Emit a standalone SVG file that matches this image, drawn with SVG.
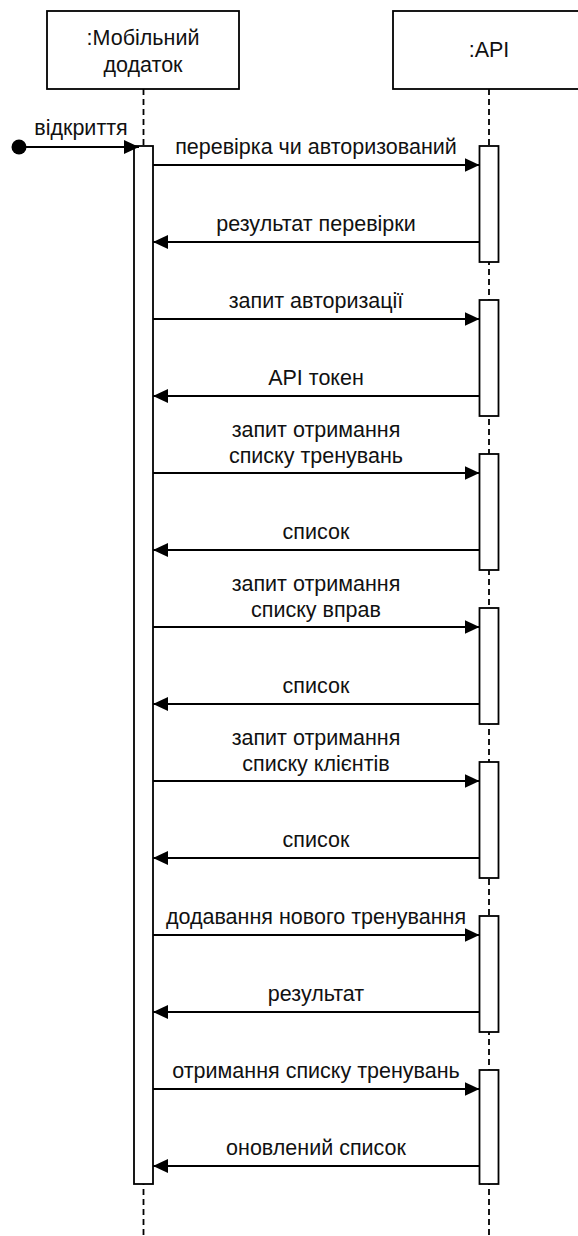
<svg xmlns="http://www.w3.org/2000/svg" width="578" height="1236" viewBox="0 0 578 1236">
  <style>
    .box { fill: #ffffff; stroke: #000000; stroke-width: 1.8; }
    .life { stroke: #000000; stroke-width: 1.8; stroke-dasharray: 6 4; fill: none; }
    .act { fill: #ffffff; stroke: #000000; stroke-width: 1.8; }
    .msg { stroke: #000000; stroke-width: 1.8; fill: none; marker-end: url(#arrow); }
    text { font-family: "Liberation Sans", Arial, Helvetica, sans-serif; font-size: 21.5px; fill: #111111; text-anchor: middle; }
  </style>
  <defs>
    <marker id="arrow" markerUnits="userSpaceOnUse" viewBox="0 0 15 14" refX="15" refY="7" markerWidth="15" markerHeight="14" orient="auto">
      <path d="M0,0 L15,7 L0,14 z" fill="#000000"/>
    </marker>
  </defs>
  <rect width="578" height="1236" fill="#ffffff"/>

  <g id="lifeline-mobile">
    <rect class="box" x="47" y="11" width="192" height="78"/>
    <text x="143" y="45">:Мобільний</text>
    <text x="143" y="72">додаток</text>
    <line class="life" x1="143.5" y1="89" x2="143.5" y2="1236"/>
    <rect class="act" x="134" y="146" width="19" height="1038"/>
  </g>

  <g id="lifeline-api">
    <rect class="box" x="393" y="11" width="192" height="78"/>
    <text x="489" y="57">:API</text>
    <line class="life" x1="489" y1="89" x2="489" y2="1236"/>
    <rect class="act" x="479.5" y="146" width="19" height="116"/>
    <rect class="act" x="479.5" y="300" width="19" height="116"/>
    <rect class="act" x="479.5" y="454" width="19" height="116"/>
    <rect class="act" x="479.5" y="608" width="19" height="116"/>
    <rect class="act" x="479.5" y="762" width="19" height="116"/>
    <rect class="act" x="479.5" y="916" width="19" height="116"/>
    <rect class="act" x="479.5" y="1070" width="19" height="114"/>
  </g>

  <g id="start-node">
    <circle cx="19" cy="147" r="7.5" fill="#000000"/>
  </g>

  <g id="connectors">
    <line class="msg" x1="19" y1="147" x2="139" y2="147"/>
    <text x="81" y="135">відкриття</text>

    <line class="msg" x1="153" y1="165" x2="479.5" y2="165"/>
    <text x="316" y="154">перевірка чи авторизований</text>
    <line class="msg" x1="479.5" y1="242" x2="153" y2="242"/>
    <text x="316" y="231">результат перевірки</text>

    <line class="msg" x1="153" y1="319" x2="479.5" y2="319"/>
    <text x="316" y="308">запит авторизації</text>
    <line class="msg" x1="479.5" y1="396" x2="153" y2="396"/>
    <text x="316" y="385">API токен</text>

    <line class="msg" x1="153" y1="473" x2="479.5" y2="473"/>
    <text x="316" y="437">запит отримання</text>
    <text x="316" y="463">списку тренувань</text>
    <line class="msg" x1="479.5" y1="550" x2="153" y2="550"/>
    <text x="316" y="539">список</text>

    <line class="msg" x1="153" y1="627" x2="479.5" y2="627"/>
    <text x="316" y="591">запит отримання</text>
    <text x="316" y="617">списку вправ</text>
    <line class="msg" x1="479.5" y1="704" x2="153" y2="704"/>
    <text x="316" y="693">список</text>

    <line class="msg" x1="153" y1="781" x2="479.5" y2="781"/>
    <text x="316" y="745">запит отримання</text>
    <text x="316" y="771">списку клієнтів</text>
    <line class="msg" x1="479.5" y1="858" x2="153" y2="858"/>
    <text x="316" y="847">список</text>

    <line class="msg" x1="153" y1="935" x2="479.5" y2="935"/>
    <text x="316" y="924">додавання нового тренування</text>
    <line class="msg" x1="479.5" y1="1012" x2="153" y2="1012"/>
    <text x="316" y="1001">результат</text>

    <line class="msg" x1="153" y1="1089" x2="479.5" y2="1089"/>
    <text x="316" y="1078">отримання списку тренувань</text>
    <line class="msg" x1="479.5" y1="1166" x2="153" y2="1166"/>
    <text x="316" y="1155">оновлений список</text>
  </g>
</svg>
